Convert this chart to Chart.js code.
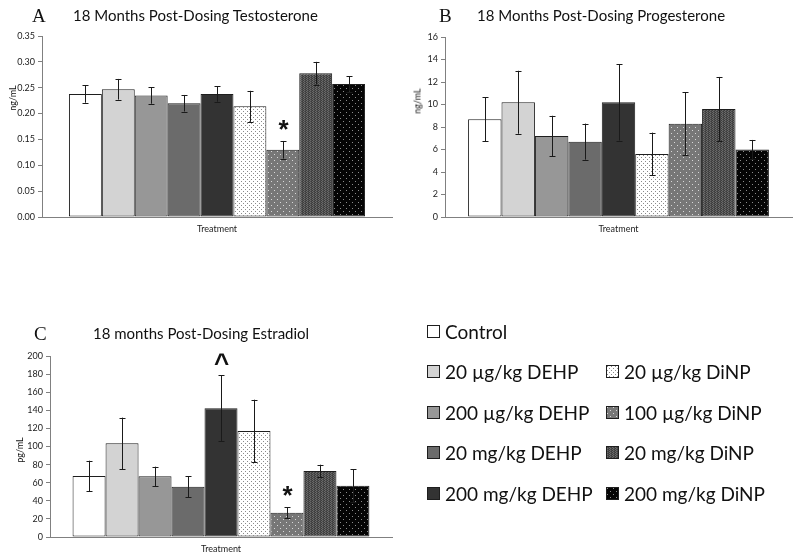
<!DOCTYPE html>
<html>
<head>
<meta charset="utf-8">
<script src="https://cdn.jsdelivr.net/npm/chart.js@4.4.0/dist/chart.umd.min.js"></script>
<style>
    body { margin: 0; background: #fff; width: 800px; height: 557px; position: relative; overflow: hidden; font-family: Lato, "Noto Sans", sans-serif; color: #111; }
    canvas.panel { position: absolute; }
    .letter { position: absolute; font-family: "Liberation Serif", serif; font-size: 19px; line-height: 1; }
    .ttl { position: absolute; font-size: 15px; line-height: 1; white-space: nowrap; }
    .ylab { position: absolute; font-size: 9px; line-height: 1; white-space: nowrap; transform: translate(-50%, -50%) rotate(-90deg); }
    #legend { position: absolute; left: 427px; top: 311px; display: grid; grid-template-columns: 179px auto; grid-auto-rows: 40.5px; font-size: 19px; }
    #legend .item { display: flex; align-items: center; gap: 5px; white-space: nowrap; }
    #legend canvas { display: block; }
</style>
</head>
<body>
<canvas class="panel" id="chartA" width="400" height="240" style="left:0;top:0"></canvas>
<canvas class="panel" id="chartB" width="400" height="240" style="left:400px;top:0"></canvas>
<canvas class="panel" id="chartC" width="400" height="267" style="left:0;top:290px"></canvas>

<div class="letter" style="left:32px;top:6px">A</div>
<div class="ttl" style="left:73px;top:8px">18 Months Post-Dosing Testosterone</div>
<div class="letter" style="left:439px;top:6px">B</div>
<div class="ttl" style="left:477px;top:8px">18 Months Post-Dosing Progesterone</div>
<div class="letter" style="left:34px;top:324px">C</div>
<div class="ttl" style="left:93px;top:326px">18 months Post-Dosing Estradiol</div>

<div class="ylab" style="left:12px;top:98px">ng/mL</div>
<div class="ylab" style="left:417px;top:101px">ng/mL</div>
<div class="ylab" style="left:19px;top:450px">pg/mL</div>

<div id="legend"></div>

<script>
// treatment groups, in bar order
const groups = ["Control", "20 µg/kg DEHP", "200 µg/kg DEHP", "20 mg/kg DEHP", "200 mg/kg DEHP",
                "20 µg/kg DiNP", "100 µg/kg DiNP", "20 mg/kg DiNP", "200 mg/kg DiNP"];

// A - testosterone (ng/mL), mean and error
const testosterone    = [0.238, 0.247, 0.235, 0.220, 0.238, 0.214, 0.130, 0.278, 0.257];
const testosteroneErr = [0.017, 0.020, 0.016, 0.016, 0.015, 0.030, 0.017, 0.022, 0.015];
const testosteroneSig = ["", "", "", "", "", "", "*", "", ""];
const testosteroneAxis = [0, 0.35, 0.05];

// B - progesterone (ng/mL)
const progesterone    = [8.7, 10.2, 7.2, 6.7, 10.2, 5.6, 8.3, 9.6, 6.0];
const progesteroneErr = [1.95, 2.8, 1.8, 1.6, 3.4, 1.9, 2.8, 2.85, 0.85];
const progesteroneSig = ["", "", "", "", "", "", "", "", ""];
const progesteroneAxis = [0, 16, 2];

// C - estradiol (pg/mL)
const estradiol    = [67.4, 103.5, 67.0, 55.6, 142.2, 117.1, 26.9, 72.9, 56.7];
const estradiolErr = [16.9, 28.4, 10.7, 11.8, 36.3, 34.6, 6.0, 7.0, 18.4];
const estradiolSig = ["", "", "", "", "^", "", "*", "", ""];
const estradiolAxis = [0, 200, 20];

function dotPattern(bg, dot, w, h, spots) {
    const c = document.createElement("canvas");
    c.width = w; c.height = h;
    const g = c.getContext("2d");
    g.fillStyle = bg;
    g.fillRect(0, 0, w, h);
    g.fillStyle = dot;
    spots.forEach(p => g.fillRect(p[0], p[1], 1, 1));
    return g.createPattern(c, "repeat");
}

function stripePattern(cols) {
    const c = document.createElement("canvas");
    c.width = cols.length; c.height = 2;
    const g = c.getContext("2d");
    cols.forEach((col, i) => {
        g.fillStyle = col;
        g.fillRect(i, 0, 1, 1);
        g.fillStyle = cols[(i + 1) % cols.length];
        g.fillRect(i, 1, 1, 1);
    });
    return g.createPattern(c, "repeat");
}

const fills = [
    "#ffffff", "#d3d3d3", "#979797", "#6b6b6b", "#333333",
    dotPattern("#ffffff", "#8a8a8a", 4, 4, [[1, 1], [3, 3]]),
    dotPattern("#777777", "#d8d8d8", 6, 6, [[1, 1], [4, 4]]),
    stripePattern(["#3c3c3c", "#6a6a6a", "#4d4d4d"]),
    dotPattern("#050505", "#8c8c8c", 6, 6, [[1, 1], [4, 4]])
];

const errorBars = {
    id: "errorBars",
    afterDatasetsDraw(chart, args, opts) {
        const ctx = chart.ctx;
        const y = chart.scales.y;
        ctx.save();
        chart.data.datasets.forEach((ds, i) => {
            const bar = chart.getDatasetMeta(i).data[0];
            const v = ds.data[0];
            const e = opts.err[i];
            const top = y.getPixelForValue(v + e);
            const bot = y.getPixelForValue(v - e);
            const x = Math.round(bar.x) + 0.5;
            ctx.strokeStyle = "#1a1a1a";
            ctx.lineWidth = 1;
            ctx.beginPath();
            ctx.moveTo(x, top); ctx.lineTo(x, bot);
            ctx.moveTo(x - 3, Math.round(top) + 0.5); ctx.lineTo(x + 3, Math.round(top) + 0.5);
            ctx.moveTo(x - 3, Math.round(bot) + 0.5); ctx.lineTo(x + 3, Math.round(bot) + 0.5);
            ctx.stroke();
            const mark = opts.marks[i];
            if (mark) {
                ctx.fillStyle = "#111";
                ctx.font = "bold 26px 'Liberation Sans'";
                ctx.textAlign = "center";
                ctx.textBaseline = "alphabetic";
                ctx.fillText(mark, x, top - 3);
            }
        });
        ctx.restore();
    }
};

function makeChart(id, values, err, marks, axis, opt) {
    const ctx = document.getElementById(id).getContext("2d");
    const decimals = axis[2] < 1 ? 2 : 0;
    return new Chart(ctx, {
        type: "bar",
        data: {
            labels: [""],
            datasets: groups.map((g, i) => ({
                label: g,
                data: [values[i]],
                backgroundColor: fills[i],
                borderColor: "#1e1e1e",
                borderWidth: 1,
                borderSkipped: false
            }))
        },
        options: {
            responsive: false,
            animation: false,
            events: [],
            categoryPercentage: opt.catPct,
            barPercentage: 1,
            layout: { padding: { top: opt.top, left: 0, right: 8, bottom: 0 } },
            plugins: {
                legend: { display: false },
                tooltip: { enabled: false },
                errorBars: { err: err, marks: marks }
            },
            scales: {
                x: {
                    ticks: { display: false },
                    grid: { display: false },
                    border: { color: "#808080" },
                    title: {
                        display: true,
                        text: "Treatment",
                        color: "#222",
                        font: { size: 9, family: "Lato" },
                        padding: { top: 0, bottom: opt.tPad }
                    },
                    afterFit(s) { s.height = opt.xH; }
                },
                y: {
                    min: axis[0],
                    max: axis[1],
                    ticks: {
                        stepSize: axis[2],
                        color: "#222",
                        font: { size: 9, family: "Lato" },
                        padding: 3,
                        callback: v => v.toFixed(decimals)
                    },
                    grid: { drawOnChartArea: false, tickLength: 4, color: "#808080" },
                    border: { color: "#808080" },
                    afterFit(s) { s.width = opt.yW; }
                }
            }
        },
        plugins: [errorBars]
    });
}

makeChart("chartA", testosterone, testosteroneErr, testosteroneSig, testosteroneAxis,
    { top: 36, yW: 42, xH: 23, tPad: 5.6, catPct: 0.846 });
makeChart("chartB", progesterone, progesteroneErr, progesteroneSig, progesteroneAxis,
    { top: 37, yW: 45, xH: 23, tPad: 5.6, catPct: 0.867 });
makeChart("chartC", estradiol, estradiolErr, estradiolSig, estradiolAxis,
    { top: 66, yW: 50, xH: 20, tPad: 2.6, catPct: 0.868 });

// legend: control alone on top, DEHP groups in the left column, DiNP groups on the right
const legend = document.getElementById("legend");
groups.forEach((g, i) => {
    const item = document.createElement("div");
    item.className = "item";
    if (i < 5) { item.style.gridColumn = "1"; item.style.gridRow = String(i + 1); }
    else { item.style.gridColumn = "2"; item.style.gridRow = String(i - 3); }
    const sw = document.createElement("canvas");
    sw.width = 13; sw.height = 13;
    const sc = sw.getContext("2d");
    sc.fillStyle = fills[i];
    sc.fillRect(0, 0, 13, 13);
    sc.strokeStyle = "#1e1e1e";
    sc.lineWidth = 1;
    sc.strokeRect(0.5, 0.5, 12, 12);
    const txt = document.createElement("span");
    txt.textContent = g;
    item.appendChild(sw);
    item.appendChild(txt);
    legend.appendChild(item);
});
</script>
</body>
</html>
